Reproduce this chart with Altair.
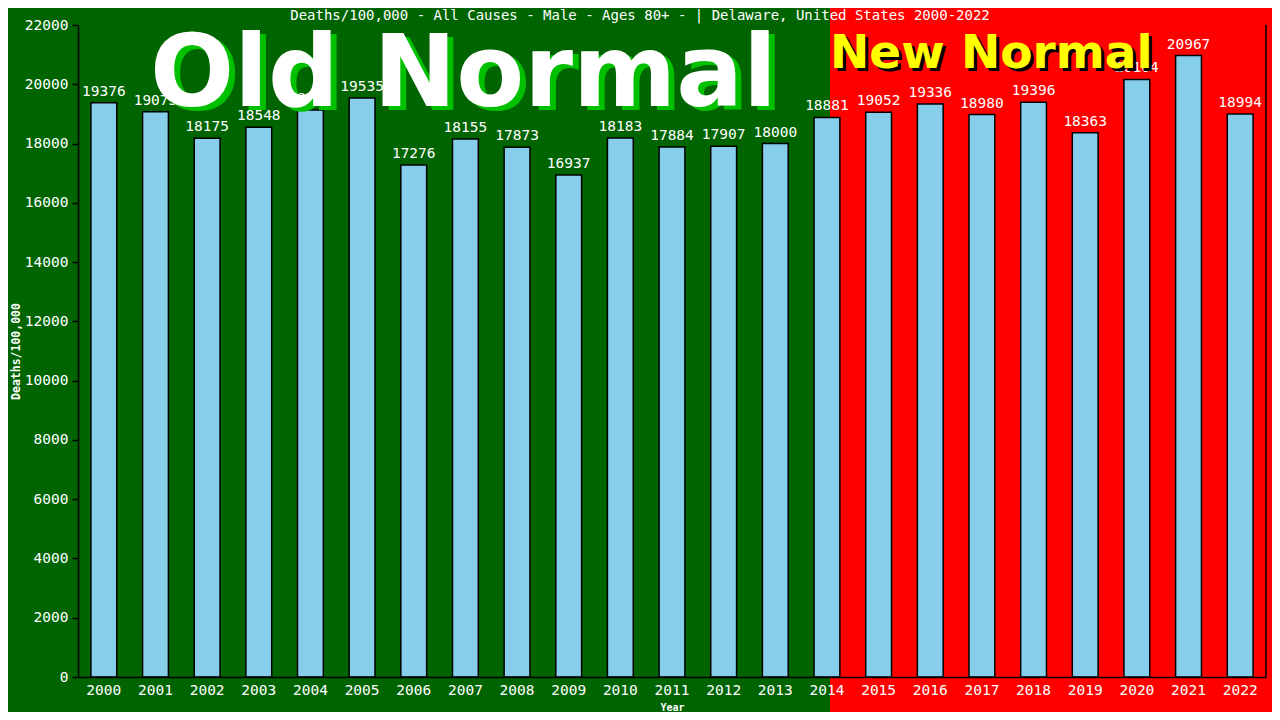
import altair as alt
import pandas as pd

years = [str(y) for y in range(2000, 2023)]
values = [19376, 19073, 18175, 18548, 19134, 19535, 17276, 18155, 17873, 16937,
          18183, 17884, 17907, 18000, 18881, 19052, 19336, 18980, 19396, 18363,
          20164, 20967, 18994]
title_text = "Deaths/100,000 - All Causes - Male - Ages 80+ -  | Delaware, United States 2000-2022"
old_label = "Old Normal"
new_label = "New Normal"

df = pd.DataFrame({"Year": years, "Deaths": values})
one = pd.DataFrame({"k": [0]})

W, H = 1188, 652
MONO = "DejaVu Sans Mono"
BOLD = "DejaVu Sans"

xenc = alt.X("Year:N", sort=years,
             scale=alt.Scale(paddingInner=0.5, paddingOuter=0.25),
             axis=alt.Axis(title="Year", labelAngle=0, ticks=False, labelPadding=6,
                           labelFont=MONO, labelFontSize=14.5, labelColor="white",
                           titleFont=MONO, titleFontSize=10, titleFontWeight="bold",
                           titleColor="white", titlePadding=6, zindex=1,
                           domainColor="black", domainWidth=1.5))
yenc = alt.Y("Deaths:Q", scale=alt.Scale(domain=[0, 22000], nice=False),
             axis=alt.Axis(title="Deaths/100,000", values=list(range(0, 22001, 2000)),
                           format="d", grid=False, labelFont=MONO, labelFontSize=14.5,
                           labelColor="white", tickColor="black", tickSize=6,
                           tickWidth=1.5, labelPadding=4, zindex=1,
                           titleFont=MONO, titleFontSize=11.5, titleFontWeight="bold",
                           titleColor="white", titleX=-57, titleY=H / 2,
                           domainColor="black", domainWidth=1.5))

red_bg = alt.Chart(one).mark_rect(color="#ff0000").encode(
    x=alt.value(752), x2=alt.value(1300), y=alt.value(-60), y2=alt.value(800))

right_line = alt.Chart(one).mark_rule(color="black", strokeWidth=1.5).encode(
    x=alt.value(W), y=alt.value(0), y2=alt.value(H))

bars = alt.Chart(df).mark_bar(color="#87ceeb", stroke="black", strokeWidth=1.5).encode(
    x=xenc, y=yenc)

labels = alt.Chart(df).mark_text(font=MONO, fontSize=14.5, color="white",
                                 baseline="alphabetic", dy=-7).encode(
    x=alt.X("Year:N", sort=years), y="Deaths:Q", text="Deaths:Q")

title = alt.Chart(one).mark_text(font=MONO, fontSize=14, color="white",
                                 align="center", baseline="middle").encode(
    x=alt.value(562), y=alt.value(-9), text=alt.value(title_text))

old_shadow = alt.Chart(one).mark_text(font=BOLD, fontSize=99, fontWeight="bold",
                                      color="#00c000", align="left",
                                      baseline="alphabetic").encode(
    x=alt.value(78), y=alt.value(85), text=alt.value(old_label))
old_text = alt.Chart(one).mark_text(font=BOLD, fontSize=99, fontWeight="bold",
                                    color="white", align="left",
                                    baseline="alphabetic").encode(
    x=alt.value(72), y=alt.value(81), text=alt.value(old_label))

new_shadow = alt.Chart(one).mark_text(font=BOLD, fontSize=47, fontWeight="bold",
                                      color="black", align="left",
                                      baseline="alphabetic").encode(
    x=alt.value(755), y=alt.value(46), text=alt.value(new_label))
new_text = alt.Chart(one).mark_text(font=BOLD, fontSize=47, fontWeight="bold",
                                    color="#ffff00", align="left",
                                    baseline="alphabetic").encode(
    x=alt.value(752), y=alt.value(43), text=alt.value(new_label))

chart = alt.layer(red_bg, bars, labels, right_line, title,
                  old_shadow, old_text, new_shadow, new_text).properties(
    width=W, height=H,
    autosize=alt.AutoSizeParams(type="none"),
    padding={"left": 70, "top": 17, "right": 6, "bottom": 35},
    background="#006400",
).configure_view(stroke=None)

chart.save("out.html", embed_options={"renderer": "svg", "actions": False})
